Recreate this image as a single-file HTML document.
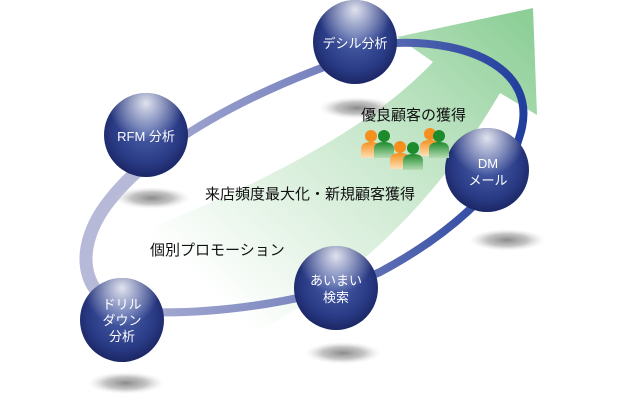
<!DOCTYPE html>
<html><head><meta charset="utf-8"><style>
body{margin:0;background:#fff}
svg{display:block}
text{font-family:"Liberation Sans","Noto Sans CJK JP",sans-serif}
</style></head><body>
<svg width="620" height="400" viewBox="0 0 620 400" xmlns="http://www.w3.org/2000/svg">
<defs>
<linearGradient id="arrowG" x1="250" y1="330" x2="530" y2="30" gradientUnits="userSpaceOnUse">
<stop offset="0" stop-color="#9fd6a6" stop-opacity="0"/>
<stop offset="0.45" stop-color="#a6d9ac" stop-opacity="0.5"/>
<stop offset="1" stop-color="#8ecf98"/>
</linearGradient>
<linearGradient id="ringG" x1="80" y1="0" x2="530" y2="0" gradientUnits="userSpaceOnUse">
<stop offset="0" stop-color="#b6b9d8"/>
<stop offset="0.5" stop-color="#7b86c0"/>
<stop offset="1" stop-color="#1e3c9c"/>
</linearGradient>
<radialGradient id="sph" cx="0.5" cy="0.45" r="0.6">
<stop offset="0" stop-color="#4a5fa8"/>
<stop offset="0.65" stop-color="#2a3b86"/>
<stop offset="1" stop-color="#16205a"/>
</radialGradient>
<radialGradient id="hl" cx="0.5" cy="0.12" r="0.45">
<stop offset="0" stop-color="#fff" stop-opacity="0.85"/>
<stop offset="1" stop-color="#fff" stop-opacity="0"/>
</radialGradient>
<radialGradient id="sh" cx="0.5" cy="0.5" r="0.5">
<stop offset="0" stop-color="#8a8a8a"/>
<stop offset="0.55" stop-color="#aaa" stop-opacity="0.7"/>
<stop offset="1" stop-color="#ddd" stop-opacity="0"/>
</radialGradient>
<linearGradient id="og" x1="0" y1="0" x2="0" y2="1"><stop offset="0" stop-color="#f5901e"/><stop offset="1" stop-color="#fde0b8"/></linearGradient>
<linearGradient id="gg" x1="0" y1="0" x2="0" y2="1"><stop offset="0" stop-color="#1d8a2c"/><stop offset="1" stop-color="#b5dcb2"/></linearGradient>
<g id="po"><circle cx="0" cy="0" r="6" fill="#f5901e"/><path d="M-10,22 L-10,13 Q-10,6 0,6 Q10,6 10,13 L10,22Z" fill="url(#og)"/></g>
<g id="pg"><circle cx="0" cy="0" r="6" fill="#1d8a2c"/><path d="M-10,22 L-10,13 Q-10,6 0,6 Q10,6 10,13 L10,22Z" fill="url(#gg)"/></g>
</defs>

<path d="M250,335 C320,300 420,230 500,93 L537,115 L533,8 L397,37 L433,62 C370,130 250,190 120,240 Z" fill="url(#arrowG)"/>

<path d="M395,43 C470,40 540,70 520,135 C505,190 440,240 380,272 C320,300 220,315 140,312 C80,305 70,250 110,200 C150,150 240,90 395,43" fill="none" stroke="url(#ringG)" stroke-width="8"/>
<path d="M140,312 C80,305 70,250 110,200 C130,175 150,160 170,145" fill="none" stroke="#b6b9d8" stroke-width="13"/>

<ellipse cx="357" cy="108" rx="38" ry="11" fill="url(#sh)"/>
<ellipse cx="152" cy="198" rx="38" ry="11" fill="url(#sh)"/>
<ellipse cx="507" cy="240" rx="38" ry="11" fill="url(#sh)"/>
<ellipse cx="343" cy="353" rx="38" ry="11" fill="url(#sh)"/>
<ellipse cx="126" cy="383" rx="38" ry="11" fill="url(#sh)"/>

<g>
<circle cx="355" cy="42" r="42" fill="url(#sph)"/><circle cx="355" cy="42" r="42" fill="url(#hl)"/>
<circle cx="146" cy="135" r="42" fill="url(#sph)"/><circle cx="146" cy="135" r="42" fill="url(#hl)"/>
<circle cx="487" cy="170" r="42" fill="url(#sph)"/><circle cx="487" cy="170" r="42" fill="url(#hl)"/>
<circle cx="336" cy="288" r="42" fill="url(#sph)"/><circle cx="336" cy="288" r="42" fill="url(#hl)"/>
<circle cx="122" cy="320" r="42" fill="url(#sph)"/><circle cx="122" cy="320" r="42" fill="url(#hl)"/>
</g>
<g fill="#fff" font-size="13" text-anchor="middle">
<text x="355" y="48">デシル分析</text>
<text x="146" y="141">RFM 分析</text>
<text x="488" y="168">DM</text><text x="488" y="185">メール</text>
<text x="336" y="285">あいまい</text><text x="336" y="302">検索</text>
<text x="122" y="309">ドリル</text><text x="122" y="325">ダウン</text><text x="122" y="341">分析</text>
</g>

<use href="#po" x="371" y="136"/>
<use href="#pg" x="384" y="136"/>
<use href="#po" x="430" y="134"/>
<use href="#pg" x="439" y="136"/>
<use href="#po" x="400" y="147"/>
<use href="#pg" x="413" y="148"/>

<g fill="#111" font-size="15">
<text x="361" y="120">優良顧客の獲得</text>
<text x="205" y="199">来店頻度最大化・新規顧客獲得</text>
<text x="150" y="255">個別プロモーション</text>
</g>
</svg>
</body></html>
